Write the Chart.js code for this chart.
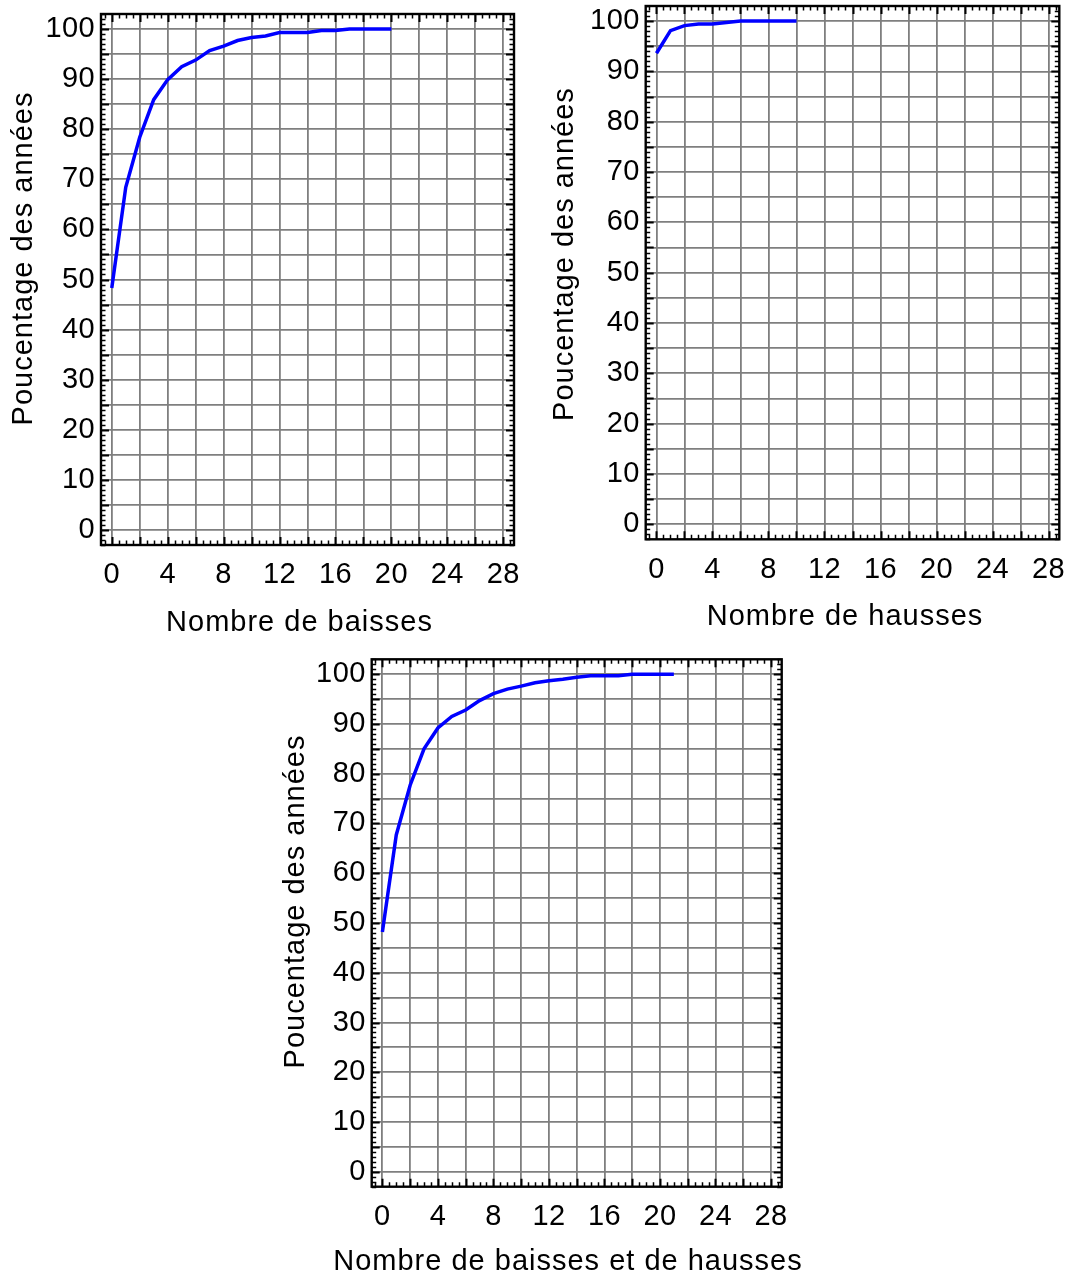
<!DOCTYPE html>
<html>
<head>
<meta charset="utf-8">
<script src="https://cdn.jsdelivr.net/npm/chart.js@4.4.1/dist/chart.umd.min.js"></script>
<style>
  html, body { margin: 0; padding: 0; background: #ffffff; }
  body { position: relative; width: 1068px; height: 1276px; overflow: hidden; }
  canvas { position: absolute; display: block; }
</style>
</head>
<body>
<canvas id="chBaisses" width="534" height="640" style="left:0px;top:0px"></canvas>
<canvas id="chHausses" width="534" height="640" style="left:534px;top:0px"></canvas>
<canvas id="chTotal" width="570" height="636" style="left:250px;top:640px"></canvas>
<script>
// Pourcentage cumulé des années ayant au plus n baisses
const baissesN   = [0, 1, 2, 3, 4, 5, 6, 7, 8, 9, 10, 11, 12, 13, 14, 15, 16, 17, 18, 19, 20];
const baissesPct = [48.3, 68.4, 78.4, 85.9, 89.9, 92.5, 93.8, 95.7, 96.6, 97.7, 98.3, 98.6, 99.3, 99.3, 99.3, 99.7, 99.7, 100, 100, 100, 100];

// Pourcentage cumulé des années ayant au plus n hausses
const haussesN   = [0, 1, 2, 3, 4, 5, 6, 7, 8, 9, 10];
const haussesPct = [93.6, 98.1, 99.1, 99.4, 99.4, 99.7, 100, 100, 100, 100, 100];

// Pourcentage cumulé des années ayant au plus n baisses et hausses
const totalN   = [0, 1, 2, 3, 4, 5, 6, 7, 8, 9, 10, 11, 12, 13, 14, 15, 16, 17, 18, 19, 20, 21];
const totalPct = [48.2, 67.7, 77.7, 85.0, 89.2, 91.5, 92.8, 94.7, 96.1, 97.0, 97.6, 98.3, 98.7, 99.0, 99.4, 99.7, 99.7, 99.7, 100, 100, 100, 100];

// Graduations étiquetées
const xTickLabels = [0, 4, 8, 12, 16, 20, 24, 28];
const yTickLabels = [0, 10, 20, 30, 40, 50, 60, 70, 80, 90, 100];

const yTitle = 'Poucentage des années';
const FONT = '"Liberation Sans", Arial, Helvetica, sans-serif';

// Cadre noir avec graduations intérieures sur les quatre côtés + titres d'axes
const framePlugin = {
  id: 'frame',
  beforeDraw(chart) {
    chart.ctx.letterSpacing = '0.4px';
  },
  afterDraw(chart, args, opts) {
    const ctx = chart.ctx;
    const { left, top, right, bottom } = chart.chartArea;
    const xs = chart.scales.x, ys = chart.scales.y;
    ctx.save();
    ctx.strokeStyle = '#000000';
    ctx.lineCap = 'butt';

    // graduations horizontales : majeures tous les 2, mineures tous les 0.5
    for (let k = Math.ceil(xs.min * 2); k <= Math.floor(xs.max * 2); k++) {
      const v = k / 2;
      const major = k % 4 === 0;
      const len = major ? 8 : 4.5;
      const p = Math.round(xs.getPixelForValue(v)) + 0.5;
      ctx.lineWidth = major ? 2 : 1.5;
      ctx.beginPath();
      ctx.moveTo(p, bottom); ctx.lineTo(p, bottom - len);
      ctx.moveTo(p, top); ctx.lineTo(p, top + len);
      ctx.stroke();
    }
    // graduations verticales : majeures tous les 5, mineures tous les 1
    for (let v = Math.ceil(ys.min); v <= Math.floor(ys.max); v++) {
      const major = v % 5 === 0;
      const len = major ? 8 : 4.5;
      const p = Math.round(ys.getPixelForValue(v)) + 0.5;
      ctx.lineWidth = major ? 2 : 1.5;
      ctx.beginPath();
      ctx.moveTo(left, p); ctx.lineTo(left + len, p);
      ctx.moveTo(right, p); ctx.lineTo(right - len, p);
      ctx.stroke();
    }
    ctx.lineWidth = 2.4;
    ctx.strokeRect(left, top, right - left, bottom - top);

    // titres des axes
    ctx.fillStyle = '#000000';
    ctx.font = '29px ' + FONT;
    ctx.letterSpacing = '1px';
    ctx.textBaseline = 'alphabetic';
    ctx.textAlign = 'center';
    ctx.fillText(opts.xTitle, (left + right) / 2 + opts.xShift, bottom + opts.xBase);
    ctx.save();
    ctx.translate(left - opts.yBase, (top + bottom) / 2 + opts.yShift);
    ctx.rotate(-Math.PI / 2);
    ctx.fillText(opts.yTitle, 0, 0);
    ctx.restore();
    ctx.restore();
  }
};

function makeChart(id, xs, ys, box, titles) {
  const pts = xs.map((n, i) => ({ x: n, y: ys[i] }));
  return new Chart(document.getElementById(id), {
    type: 'line',
    data: {
      datasets: [{
        data: pts,
        borderColor: '#0000ff',
        borderWidth: 3.5,
        pointRadius: 0,
        pointHoverRadius: 0,
        fill: false,
        tension: 0
      }]
    },
    plugins: [framePlugin],
    options: {
      responsive: false,
      animation: false,
      events: [],
      layout: { padding: { left: 0, top: box.top, right: box.right, bottom: 0 } },
      plugins: {
        legend: { display: false },
        tooltip: { enabled: false },
        frame: titles
      },
      scales: {
        x: {
          type: 'linear',
          min: -0.77,
          max: 28.77,
          afterFit(s) { s.height = box.xHeight; s.paddingLeft = 0; s.paddingRight = 0; },
          border: { display: false },
          grid: { color: '#7f7f7f', lineWidth: 1.8, drawTicks: false },
          ticks: {
            stepSize: 2,
            includeBounds: false,
            autoSkip: false,
            maxRotation: 0,
            padding: 13,
            color: '#000000',
            font: { family: FONT, size: 29 },
            callback: v => xTickLabels.includes(v) ? String(v) : ''
          }
        },
        y: {
          type: 'linear',
          min: -3,
          max: 103,
          afterFit(s) { s.width = box.yWidth; s.paddingTop = 0; s.paddingBottom = 0; },
          border: { display: false },
          grid: { color: '#7f7f7f', lineWidth: 1.8, drawTicks: false },
          ticks: {
            stepSize: 5,
            includeBounds: false,
            autoSkip: false,
            padding: 6,
            color: '#000000',
            font: { family: FONT, size: 29 },
            callback: v => yTickLabels.includes(v) ? String(v) : ''
          }
        }
      }
    }
  });
}

makeChart('chBaisses', baissesN, baissesPct,
  { top: 14, right: 20, yWidth: 101, xHeight: 95 },
  { xTitle: 'Nombre de baisses', yTitle: yTitle, xBase: 85.7, xShift: -8, yBase: 68.7, yShift: -21 });

makeChart('chHausses', haussesN, haussesPct,
  { top: 6, right: 8.7, yWidth: 111.7, xHeight: 100.7 },
  { xTitle: 'Nombre de hausses', yTitle: yTitle, xBase: 85.7, xShift: -7.5, yBase: 72.4, yShift: -18.6 });

makeChart('chTotal', totalN, totalPct,
  { top: 19.3, right: 38.3, yWidth: 121.7, xHeight: 89.3 },
  { xTitle: 'Nombre de baisses et de hausses', yTitle: yTitle, xBase: 83.3, xShift: -8.7, yBase: 68, yShift: -21.5 });
</script>
</body>
</html>
